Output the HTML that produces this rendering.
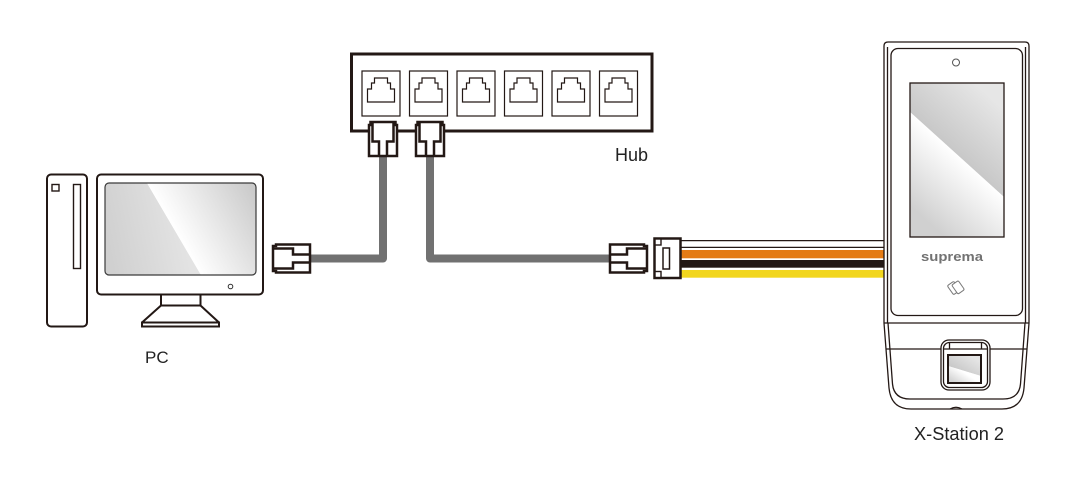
<!DOCTYPE html>
<html><head><meta charset="utf-8">
<style>
html,body{margin:0;padding:0;background:#fff;}
svg{display:block;}
text{font-family:"Liberation Sans",sans-serif;}
</style></head><body>
<svg width="1075" height="483" viewBox="0 0 1075 483" xmlns="http://www.w3.org/2000/svg">
<defs>
 <linearGradient id="pcL" gradientUnits="userSpaceOnUse" x1="105" y1="230" x2="180" y2="215">
  <stop offset="0" stop-color="#d0d0d0"/><stop offset="1" stop-color="#e3e3e3"/>
 </linearGradient>
 <linearGradient id="pcR" gradientUnits="userSpaceOnUse" x1="174" y1="229" x2="250" y2="185">
  <stop offset="0" stop-color="#ffffff"/><stop offset="1" stop-color="#cbcbcb"/>
 </linearGradient>
 <linearGradient id="dvU" gradientUnits="userSpaceOnUse" x1="957" y1="154" x2="1000" y2="106">
  <stop offset="0" stop-color="#c8c8c8"/><stop offset="1" stop-color="#e6e6e6"/>
 </linearGradient>
 <linearGradient id="dvL" gradientUnits="userSpaceOnUse" x1="957" y1="154" x2="910" y2="206">
  <stop offset="0" stop-color="#ffffff"/><stop offset="1" stop-color="#d0d0d0"/>
 </linearGradient>
 <linearGradient id="fpU" gradientUnits="userSpaceOnUse" x1="960" y1="372" x2="970" y2="356">
  <stop offset="0" stop-color="#c9c9c9"/><stop offset="1" stop-color="#e4e4e4"/>
 </linearGradient>
 <linearGradient id="fpL" gradientUnits="userSpaceOnUse" x1="965" y1="373" x2="958" y2="384">
  <stop offset="0" stop-color="#ffffff"/><stop offset="1" stop-color="#d6d6d6"/>
 </linearGradient>
 <clipPath id="pcClip"><rect x="105" y="183" width="151" height="92" rx="4"/></clipPath>
 <clipPath id="dvClip"><rect x="910" y="83" width="94" height="154"/></clipPath>
 <clipPath id="fpClip"><rect x="948" y="355" width="33" height="28"/></clipPath>
</defs>

<!-- PC tower -->
<g fill="none" stroke="#231815" stroke-width="2">
 <rect x="47" y="174.5" width="40" height="152" rx="4" fill="#fff"/>
 <rect x="52" y="184.5" width="7" height="6.5" stroke-width="1.4"/>
 <rect x="73.5" y="184.5" width="7" height="84" stroke-width="1.4"/>
</g>

<!-- Monitor -->
<rect x="97" y="174.5" width="166" height="120" rx="4" fill="#fff" stroke="#231815" stroke-width="2"/>
<g clip-path="url(#pcClip)">
 <polygon points="105,183 147,183 201,275 105,275" fill="url(#pcL)"/>
 <polygon points="147,183 256,183 256,275 201,275" fill="url(#pcR)"/>
</g>
<rect x="105" y="183" width="151" height="92" rx="4" fill="none" stroke="#3a3a3a" stroke-width="1.2"/>
<circle cx="230.5" cy="286.5" r="2.3" fill="none" stroke="#333" stroke-width="1"/>
<rect x="161" y="294.5" width="39.5" height="11" fill="#fff" stroke="#231815" stroke-width="2"/>
<polygon points="161,305.5 200.5,305.5 219,322.5 142,322.5" fill="#fff" stroke="#231815" stroke-width="2" stroke-linejoin="round"/>
<rect x="142" y="322.5" width="77" height="4" fill="#fff" stroke="#231815" stroke-width="2"/>

<!-- Hub -->
<rect x="351.5" y="54" width="300.5" height="77" fill="#fff" stroke="#231815" stroke-width="3"/>
<g fill="none" stroke="#231815" stroke-width="1.2">
 <rect x="362" y="71" width="38" height="45"/>
 <rect x="409.5" y="71" width="38" height="45"/>
 <rect x="457" y="71" width="38" height="45"/>
 <rect x="504.5" y="71" width="38" height="45"/>
 <rect x="552" y="71" width="38" height="45"/>
 <rect x="599.5" y="71" width="38" height="45"/>
 <path d="M367.5,102 V89 H371.5 V83 H374.5 V78 H387.5 V83 H390.5 V89 H394.5 V102 Z"/>
 <path d="M415,102 V89 H419 V83 H422 V78 H435 V83 H438 V89 H442 V102 Z"/>
 <path d="M462.5,102 V89 H466.5 V83 H469.5 V78 H482.5 V83 H485.5 V89 H489.5 V102 Z"/>
 <path d="M510,102 V89 H514 V83 H517 V78 H530 V83 H533 V89 H537 V102 Z"/>
 <path d="M557.5,102 V89 H561.5 V83 H564.5 V78 H577.5 V83 H580.5 V89 H584.5 V102 Z"/>
 <path d="M605,102 V89 H609 V83 H612 V78 H625 V83 H628 V89 H632 V102 Z"/>
</g>

<!-- Gray cables -->
<path d="M383,150 V258.5 H300" stroke="#717171" stroke-width="8" fill="none" stroke-linejoin="round"/>
<path d="M430,150 V258.5 H620" stroke="#717171" stroke-width="8" fill="none" stroke-linejoin="round"/>

<!-- Hub plugs -->
<g fill="#fff" stroke="#231815" stroke-width="2.5">
 <polygon points="370.5,122 395.5,122 395.5,125 397,125 397,156 369,156 369,125 370.5,125"/>
 <path d="M372.5,122 V141.5 H379 V156 M393.5,122 V141.5 H387 V156" fill="none"/>
 <polygon points="417.5,122 442.5,122 442.5,125 444,125 444,156 416,156 416,125 417.5,125"/>
 <path d="M419.5,122 V141.5 H426 V156 M440.5,122 V141.5 H434 V156" fill="none"/>
</g>

<!-- PC plug -->
<g fill="#fff" stroke="#231815" stroke-width="2.5">
 <polygon points="273,246 276,246 276,244.5 310,244.5 310,272.5 276,272.5 276,271 273,271"/>
 <path d="M273,248.5 H293 V254.5 H310 M273,268.5 H293 V262.5 H310" fill="none"/>
</g>

<!-- Wires to device -->
<rect x="680" y="240" width="204" height="8" fill="#fff"/>
<path d="M680,240.6 H884 M680,247.4 H884" stroke="#231815" stroke-width="1.2"/>
<rect x="680" y="250" width="204" height="8.3" fill="#e47b15"/>
<rect x="680" y="260" width="204" height="7.7" fill="#231815"/>
<rect x="680" y="270" width="204" height="7.7" fill="#f2d61e"/>

<!-- Right plug -->
<g fill="#fff" stroke="#231815" stroke-width="2.5">
 <polygon points="610,244.5 644,244.5 644,246 647,246 647,271 644,271 644,272.5 610,272.5"/>
 <path d="M647,248.5 H627 V254.5 H610 M647,268.5 H627 V262.5 H610" fill="none"/>
</g>

<!-- Connector block -->
<g fill="#fff" stroke="#231815">
 <rect x="654.5" y="238.5" width="26" height="39.5" stroke-width="2.5"/>
 <rect x="655" y="239" width="6" height="6" stroke-width="1.4"/>
 <rect x="655" y="271.5" width="6" height="6" stroke-width="1.4"/>
 <rect x="663" y="248" width="6.5" height="21" stroke-width="1.5"/>
</g>

<!-- Device -->
<path d="M884,323 L889,388 Q891,409 911,409 H1002 Q1022,409 1024,388 L1029,323 Z" fill="#fff" stroke="none"/>
<g fill="none" stroke="#231815" stroke-width="1.3">
 <path d="M884,323 V46 Q884,42 888,42 H1025 Q1029,42 1029,46 V323" fill="#fff"/>
 <path d="M887.5,323 V47"/>
 <path d="M1025.5,323 V47"/>
 <rect x="891" y="48.5" width="131.5" height="267" rx="7"/>
 <path d="M884,323 H1029"/>
 <path d="M884,323 L889,388 Q891,409 911,409 H1002 Q1022,409 1024,388 L1029,323"/>
 <path d="M888,323 L892.5,384 Q894,399 910,399 H1003 Q1019,399 1020.5,384 L1025,323"/>
 <path d="M886,349 H1027"/>
 <path d="M950,409 Q956,405.5 962,409"/>
</g>
<!-- screen -->
<g clip-path="url(#dvClip)">
 <polygon points="910,83 1004,83 1004,197 910,112" fill="url(#dvU)"/>
 <polygon points="910,112 1004,197 1004,237 910,237" fill="url(#dvL)"/>
</g>
<rect x="910" y="83" width="94" height="154" fill="none" stroke="#231815" stroke-width="1.3"/>
<circle cx="956" cy="62.5" r="3.5" fill="none" stroke="#555" stroke-width="1"/>
<text x="921" y="261" font-size="13" font-weight="bold" fill="#727272" textLength="62" lengthAdjust="spacingAndGlyphs">suprema</text>
<!-- NFC icon -->
<g fill="none" stroke="#7a7a7a" stroke-width="1" transform="rotate(-35 956 287)">
 <rect x="949.5" y="281" width="8" height="11" rx="1.5"/>
 <rect x="953.5" y="283" width="8" height="11" rx="1.5" fill="#fff"/>
</g>
<!-- fingerprint module -->
<g fill="none" stroke="#231815" stroke-width="1.3">
 <rect x="941" y="340" width="49" height="50" rx="8" fill="#fff"/>
 <rect x="943.5" y="342.5" width="44" height="45" rx="6"/>
 <path d="M949.5,342.5 V349 M981.5,342.5 V349 M943.5,349 H987.5"/>
</g>
<g clip-path="url(#fpClip)">
 <polygon points="948,355 981,355 981,376 948,366" fill="url(#fpU)"/>
 <polygon points="948,366 981,376 981,383 948,383" fill="url(#fpL)"/>
</g>
<rect x="948" y="355" width="33" height="28" fill="none" stroke="#231815" stroke-width="2"/>

<!-- Labels -->
<text x="145" y="363" font-size="17" fill="#222">PC</text>
<text x="615" y="161" font-size="18" fill="#222">Hub</text>
<text x="914" y="440" font-size="18" fill="#222" textLength="90" lengthAdjust="spacingAndGlyphs">X-Station 2</text>
</svg>
</body></html>
